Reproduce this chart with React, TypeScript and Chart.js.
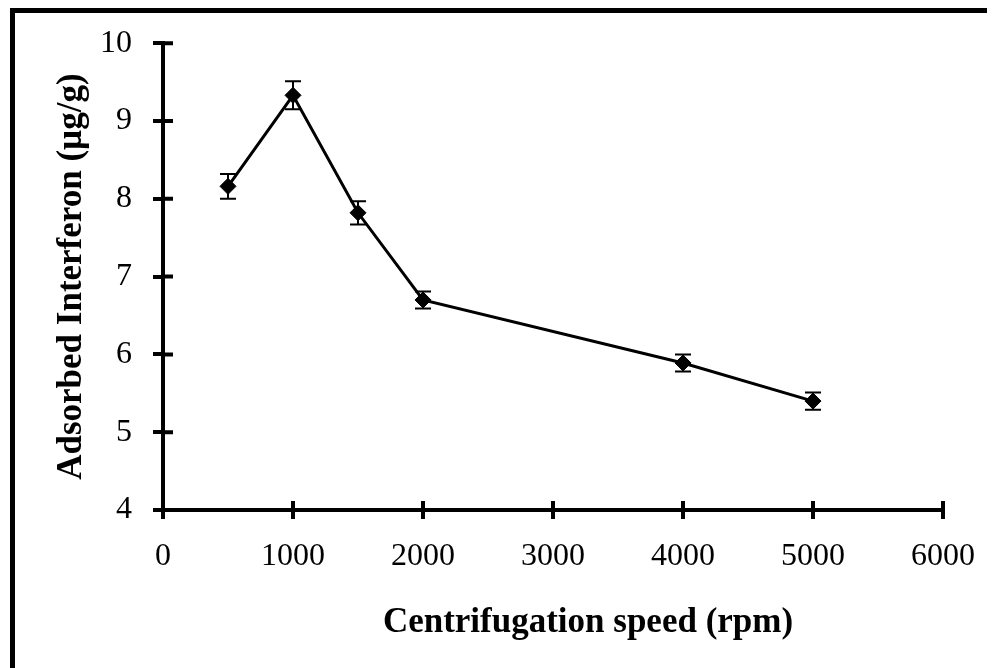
import React, { useEffect, useRef } from "react";
import { Chart, registerables } from "chart.js";

Chart.register(...registerables);

const speeds = [500, 1000, 1500, 2000, 4000, 5000];
const adsorbed = [8.16, 9.33, 7.82, 6.70, 5.89, 5.40];
const errors = [0.16, 0.18, 0.15, 0.11, 0.11, 0.11];
const xTicks = [0, 1000, 2000, 3000, 4000, 5000, 6000];
const yTicks = [4, 5, 6, 7, 8, 9, 10];
const xTitle = "Centrifugation speed (rpm)";
const yTitle = "Adsorbed Interferon (µg/g)";

const FONT = "'Liberation Serif', 'Times New Roman', serif";

const errorBarPlugin = {
  id: "errorBars",
  beforeDatasetsDraw(chart: any) {
    const { ctx, scales } = chart;
    const xs = scales.x;
    const ys = scales.y;
    ctx.save();
    ctx.strokeStyle = "#000";
    ctx.lineWidth = 2;
    speeds.forEach((s, i) => {
      const px = xs.getPixelForValue(s);
      const top = ys.getPixelForValue(adsorbed[i] + errors[i]);
      const bot = ys.getPixelForValue(adsorbed[i] - errors[i]);
      ctx.beginPath();
      ctx.moveTo(px, top);
      ctx.lineTo(px, bot);
      ctx.moveTo(px - 8, top);
      ctx.lineTo(px + 8, top);
      ctx.moveTo(px - 8, bot);
      ctx.lineTo(px + 8, bot);
      ctx.stroke();
    });
    ctx.restore();
  },
};

const crossTicksPlugin = {
  id: "crossTicks",
  afterDraw(chart: any) {
    const { ctx, scales, chartArea } = chart;
    ctx.save();
    ctx.strokeStyle = "#000";
    ctx.lineWidth = 4;
    ctx.beginPath();
    scales.y.ticks.forEach((t: any) => {
      const py = scales.y.getPixelForValue(t.value);
      ctx.moveTo(chartArea.left, py);
      ctx.lineTo(chartArea.left + 10, py);
    });
    scales.x.ticks.forEach((t: any) => {
      const px = scales.x.getPixelForValue(t.value);
      ctx.moveTo(px, chartArea.bottom);
      ctx.lineTo(px, chartArea.bottom - 9);
    });
    ctx.stroke();
    // x-axis title
    ctx.fillStyle = "#000";
    ctx.font = `bold 35px ${FONT}`;
    ctx.textAlign = "center";
    ctx.textBaseline = "alphabetic";
    const cx = (chartArea.left + chartArea.right) / 2 + 35;
    ctx.fillText(xTitle, cx, chartArea.bottom + 122);
    ctx.restore();
  },
};

export default function App() {
  const canvasRef = useRef<HTMLCanvasElement | null>(null);

  useEffect(() => {
    if (!canvasRef.current) return;
    const chart = new Chart(canvasRef.current, {
      type: "line",
      data: {
        datasets: [
          {
            data: speeds.map((s, i) => ({ x: s, y: adsorbed[i] })),
            borderColor: "#000",
            borderWidth: 3,
            backgroundColor: "#000",
            pointStyle: "rectRot",
            pointRadius: 8,
            pointBackgroundColor: "#000",
            pointBorderColor: "#000",
            pointBorderWidth: 1,
            tension: 0,
          },
        ],
      },
      options: {
        responsive: false,
        animation: false,
        layout: { padding: { left: 0, top: 20, right: 52, bottom: 0 } },
        plugins: {
          legend: { display: false },
          tooltip: { enabled: false },
        },
        scales: {
          x: {
            type: "linear",
            min: 0,
            max: 6000,
            afterFit: (s: any) => {
              s.height = 158;
            },
            afterBuildTicks: (s: any) => {
              s.ticks = xTicks.map((v) => ({ value: v }));
            },
            grid: {
              drawOnChartArea: false,
              drawTicks: true,
              tickLength: 9,
              color: "#000",
              lineWidth: 4,
            },
            border: { display: true, color: "#000", width: 4 },
            ticks: {
              color: "#000",
              padding: 18,
              maxRotation: 0,
              autoSkip: false,
              callback: (v: any) => String(v),
              font: { family: FONT, size: 32 },
            },
          },
          y: {
            type: "linear",
            min: 4,
            max: 10,
            afterFit: (s: any) => {
              s.width = 148;
            },
            afterBuildTicks: (s: any) => {
              s.ticks = yTicks.map((v) => ({ value: v }));
            },
            grid: {
              drawOnChartArea: false,
              drawTicks: true,
              tickLength: 10,
              color: "#000",
              lineWidth: 4,
            },
            border: { display: true, color: "#000", width: 4 },
            ticks: {
              color: "#000",
              padding: 21,
              autoSkip: false,
              callback: (v: any) => String(v),
              font: { family: FONT, size: 32 },
            },
            title: {
              display: true,
              text: yTitle,
              color: "#000",
              padding: { top: 36, bottom: 0 },
              font: { family: FONT, size: 35, weight: "bold" },
            },
          },
        },
      },
      plugins: [errorBarPlugin, crossTicksPlugin],
    });
    return () => chart.destroy();
  }, []);

  return (
    <div
      style={{
        marginLeft: 2,
        borderTop: "5px solid #000",
        borderLeft: "5px solid #000",
        width: 980,
        height: 655,
        background: "#fff",
      }}
    >
      <canvas
        ref={canvasRef}
        width={980}
        height={665}
        style={{ display: "block", width: 980, height: 665, marginTop: -10 }}
      />
    </div>
  );
}
